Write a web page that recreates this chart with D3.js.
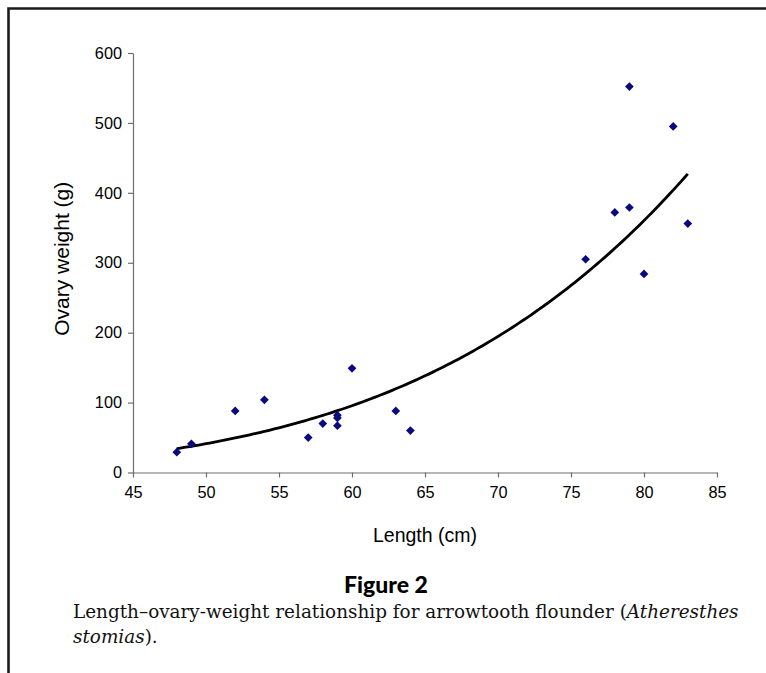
<!DOCTYPE html>
<html>
<head>
<meta charset="utf-8">
<script src="https://cdn.jsdelivr.net/npm/d3@7"></script>
<style>
  html, body { margin: 0; padding: 0; background: #fff; }
  svg { display: block; }
</style>
</head>
<body>
<svg id="fig" width="766" height="673"></svg>
<script>
// Arrowtooth flounder: fish length (cm) and ovary weight (g)
const lengthCm = [48, 49, 52, 54, 57, 58, 59, 59, 59, 60, 63, 64, 76, 78, 79, 79, 80, 82, 83];
const ovaryWeightG = [29, 41, 88, 104, 50, 70, 82, 78, 67, 149, 88, 60, 305, 372, 379, 552, 284, 495, 356];

const xTicks = [45, 50, 55, 60, 65, 70, 75, 80, 85];
const yTicks = [0, 100, 200, 300, 400, 500, 600];

const xTitle = "Length (cm)";
const yTitle = "Ovary weight (g)";
const figureLabel = "Figure 2";

const svg = d3.select("#fig");
const W = 766, H = 673;
const plot = { left: 133, right: 717, top: 53, bottom: 472.5 };

const x = d3.scaleLinear().domain([45, 85]).range([plot.left, plot.right]);
const y = d3.scaleLinear().domain([0, 600]).range([plot.bottom, plot.top]);

// page frame: rule across the top and down the left side
svg.append("path")
  .attr("d", `M8.5,${H} L8.5,8.5 L${W},8.5`)
  .attr("fill", "none")
  .attr("stroke", "#1a1a1a")
  .attr("stroke-width", 2.6);

const tickFont = "Liberation Sans, Arial, sans-serif";

// x axis
const gx = svg.append("g")
  .attr("transform", `translate(0,${plot.bottom})`)
  .call(d3.axisBottom(x).tickValues(xTicks).tickSize(5).tickPadding(9).tickSizeOuter(0));
// y axis
const gy = svg.append("g")
  .attr("transform", `translate(${plot.left},0)`)
  .call(d3.axisLeft(y).tickValues(yTicks).tickSize(5).tickPadding(6).tickSizeOuter(0));

[gx, gy].forEach(g => {
  g.select(".domain").attr("stroke", "#6e6e6e").attr("stroke-width", 1.2);
  g.selectAll(".tick line").attr("stroke", "#6e6e6e").attr("stroke-width", 1.2);
  g.selectAll(".tick text")
    .attr("fill", "#000")
    .style("font-family", tickFont)
    .style("font-size", "16.3px");
});

// power-law trend fitted by least squares on log-log values
const lx = lengthCm.map(Math.log), ly = ovaryWeightG.map(Math.log);
const mx = d3.mean(lx), my = d3.mean(ly);
const b = d3.sum(lx, (v, i) => (v - mx) * (ly[i] - my)) / d3.sum(lx, v => (v - mx) * (v - mx));
const a = Math.exp(my - b * mx);
const [lMin, lMax] = d3.extent(lengthCm);
const trend = d3.range(lMin, lMax + 0.001, 0.25).map(L => [L, a * Math.pow(L, b)]);

svg.append("path")
  .datum(trend)
  .attr("fill", "none")
  .attr("stroke", "#000")
  .attr("stroke-width", 2.8)
  .attr("stroke-linejoin", "round")
  .attr("d", d3.line().x(d => x(d[0])).y(d => y(d[1])));

// observations as navy diamonds
const diamond = d3.symbol().type(d3.symbolSquare).size(38);
svg.append("g")
  .selectAll("path")
  .data(lengthCm.map((L, i) => [L, ovaryWeightG[i]]))
  .join("path")
  .attr("d", diamond)
  .attr("transform", d => `translate(${x(d[0])},${y(d[1])}) rotate(45)`)
  .attr("fill", "#0a0a80");

// axis titles
svg.append("text")
  .attr("x", (plot.left + plot.right) / 2)
  .attr("y", 542)
  .attr("text-anchor", "middle")
  .style("font-family", tickFont)
  .style("font-size", "19.5px")
  .text(xTitle);

svg.append("text")
  .attr("transform", `translate(69,${(plot.top + plot.bottom) / 2 - 4}) rotate(-90)`)
  .attr("text-anchor", "middle")
  .style("font-family", tickFont)
  .style("font-size", "21px")
  .text(yTitle);

// caption
svg.append("text")
  .attr("x", 386)
  .attr("y", 593)
  .attr("text-anchor", "middle")
  .style("font-family", "Lato, 'Open Sans', sans-serif")
  .style("font-weight", 900)
  .style("font-size", "23px")
  .text(figureLabel);

const cap = svg.append("text")
  .style("font-family", "'DejaVu Serif', serif")
  .style("font-size", "18.4px")
  .attr("fill", "#111");
const line1 = cap.append("tspan").attr("x", 73).attr("y", 618);
line1.append("tspan").text("Length\u2013ovary-weight relationship for arrowtooth flounder (");
line1.append("tspan").style("font-style", "italic").text("Atheresthes");
const line2 = cap.append("tspan").attr("x", 73).attr("y", 643);
line2.append("tspan").style("font-style", "italic").text("stomias");
line2.append("tspan").text(").");
</script>
</body>
</html>
